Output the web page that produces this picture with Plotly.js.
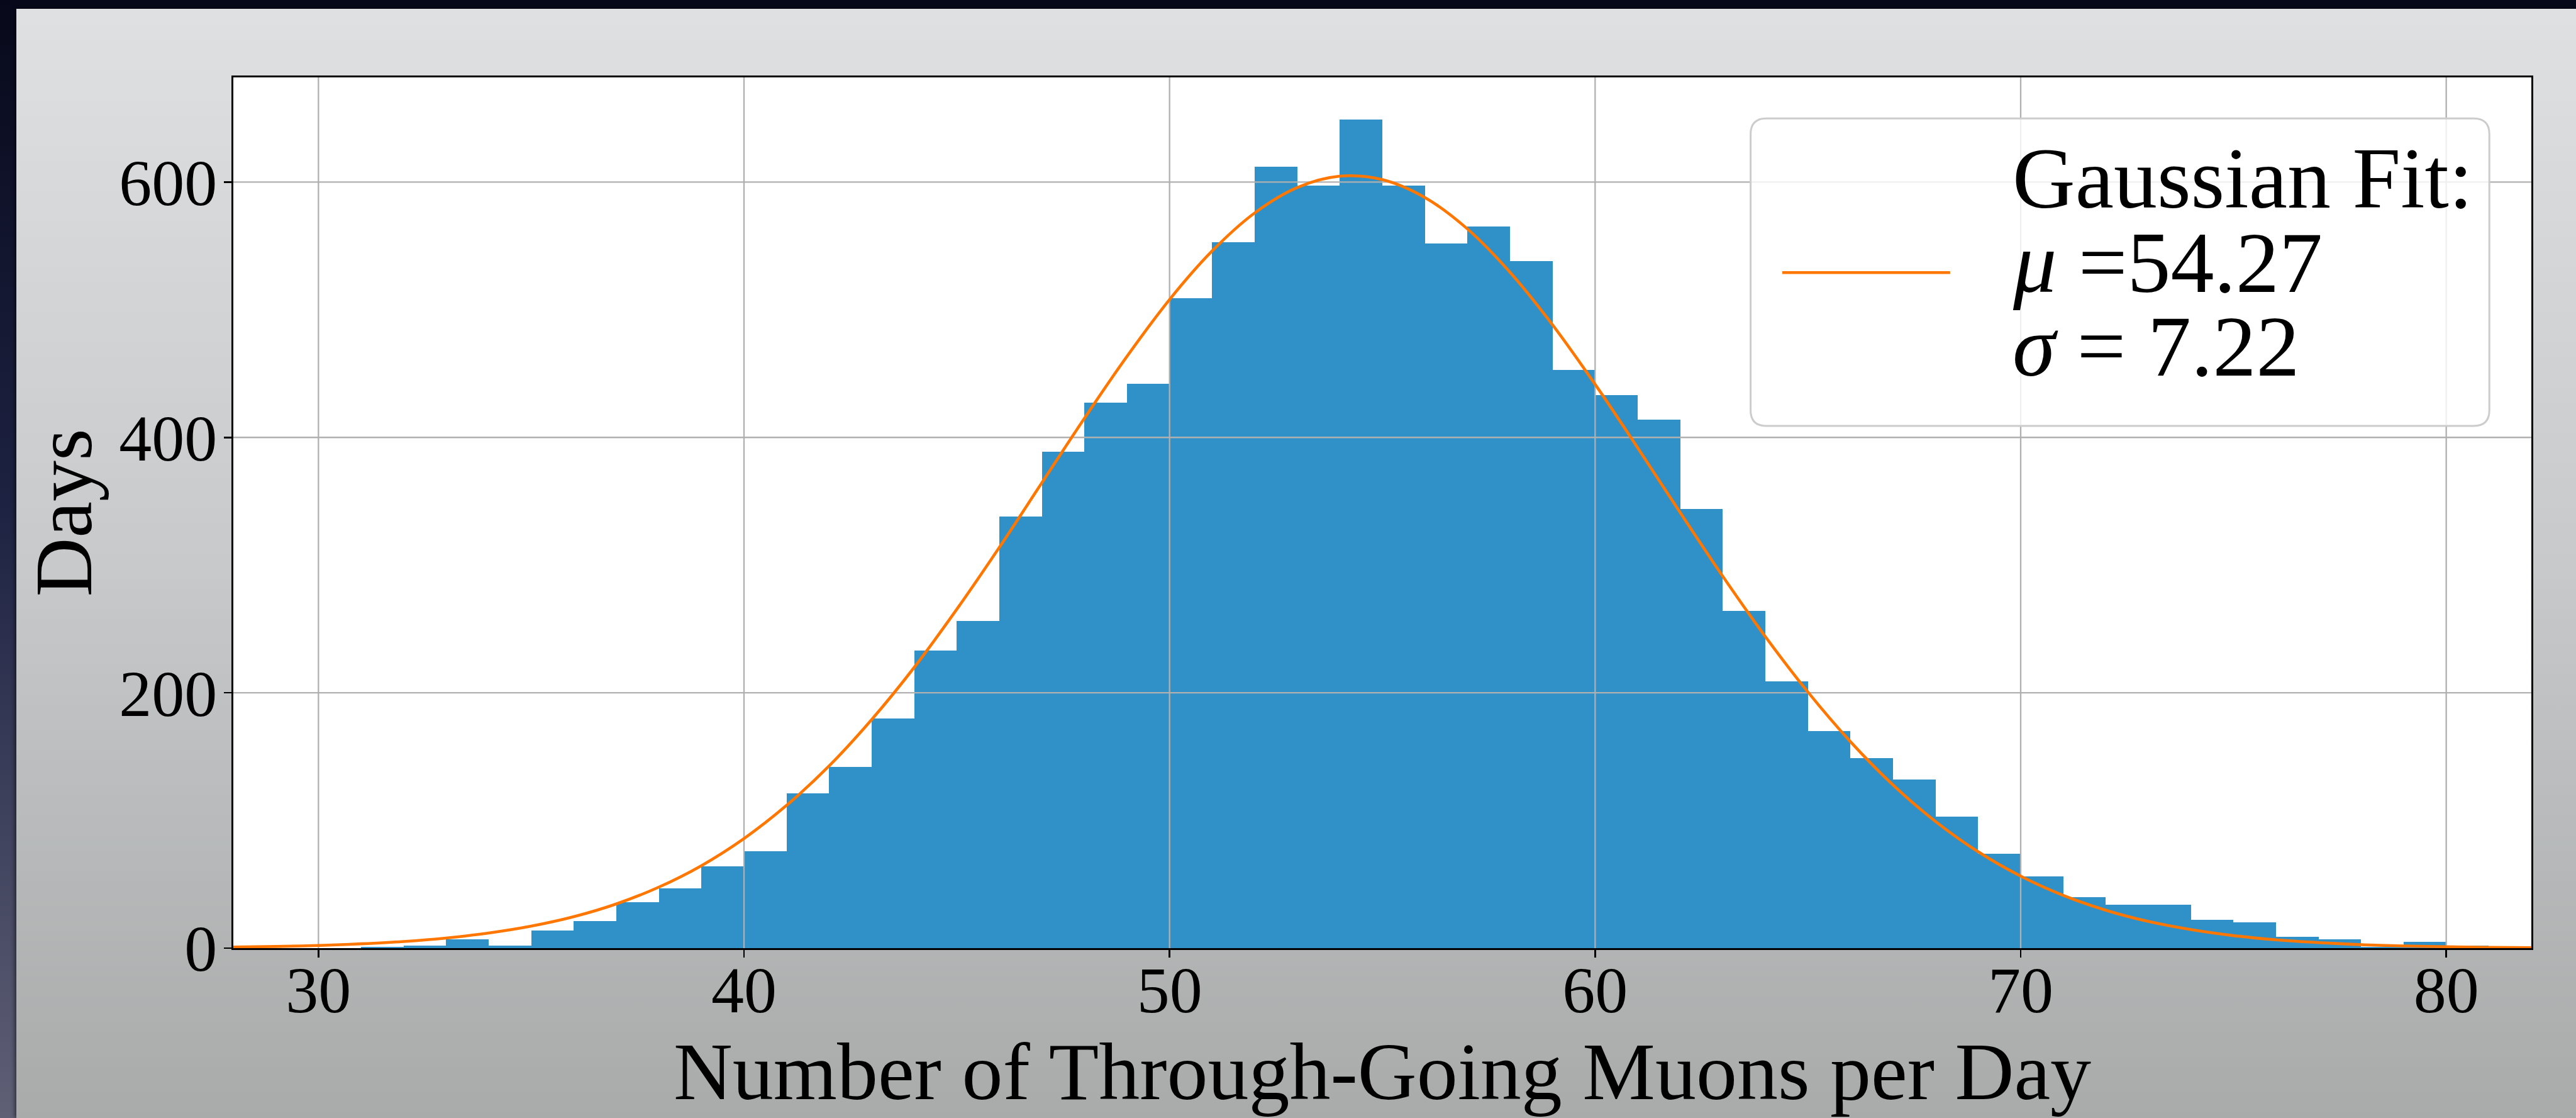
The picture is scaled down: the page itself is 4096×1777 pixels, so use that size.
<!DOCTYPE html>
<html>
<head>
<meta charset="utf-8">
<script src="https://cdn.plot.ly/plotly-3.0.1.min.js"></script>
<style>
html,body{margin:0;padding:0;width:4096px;height:1777px;overflow:hidden;background:#07091a;}
#frame{position:absolute;left:0;top:0;width:4096px;height:1777px;background:linear-gradient(to bottom,#07091a 0%,#1d2242 45%,#5f6076 100%);}
#panel{position:absolute;left:26px;top:14px;right:0;bottom:0;background:linear-gradient(to bottom,#dfe0e2 0%,#c7c9ca 50%,#a8abaa 100%);box-shadow:-3px 0 6px rgba(0,0,0,0.45);}
#chart{position:absolute;left:0;top:0;width:4096px;height:1777px;}
</style>
</head>
<body>
<div id="frame"></div>
<div id="panel"></div>
<div id="chart"></div>
<script>
// ---- data ----
const binStart = [31,32,33,34,35,36,37,38,39,40,41,42,43,44,45,46,47,48,49,50,51,52,53,54,55,56,57,58,59,60,61,62,63,64,65,66,67,68,69,70,71,72,73,74,75,76,77,78,79,80];
const dayCounts = [1,2,7,2,14,21,36,47,64,76,121,142,180,233,256,338,389,427,442,509,553,612,597,649,597,552,565,538,453,433,414,344,264,209,170,149,132,103,74,56,40,34,34,22,20,9,7,1,5,2];
const binWidth = 1;

const fitX = [28,29,30,31,32,33,34,35,36,37,38,39,40,41,42,43,44,45,46,47,48,49,50,51,52,53,54,55,56,57,58,59,60,61,62,63,64,65,66,67,68,69,70,71,72,73,74,75,76,77,78,79,80,81,82];
const fitY = [0.8,1.3,2.1,3.4,5.2,7.9,11.8,17.2,24.6,34.6,47.8,64.6,85.8,111.8,142.7,179.0,219.9,265.4,313.9,364.5,415.0,463.5,508.0,546.0,575.8,595.7,604.6,601.9,587.9,563.3,529.4,488.2,441.6,391.9,341.1,291.2,244.0,200.6,161.7,127.8,99.2,75.5,56.4,41.3,29.7,20.9,14.5,9.8,6.5,4.3,2.7,1.7,1.1,0.6,0.4];

const legendLines = ['Gaussian Fit:', '<i>μ</i> =54.27', '<i>σ</i> = 7.22'];
const xTicks = [30,40,50,60,70,80];
const yTicks = [0,200,400,600];
const xTitle = 'Number of Through-Going Muons per Day';
const yTitle = 'Days';
const xRange = [28,82];
const yRange = [0,682];

// ---- geometry (pixels in the 4096x1777 window) ----
const W = 4096, H = 1777;
const L = 370.5, R = 4025.4, T = 122.6, B = 1507.3;
const px = x => (x - L) / (R - L);
const py = y => (B - y) / (B - T);

const BLUE = '#2f91c7';
const ORANGE = '#ff7700';
const GRID = '#b0b0b0';
const FONT = 'Liberation Serif, Times New Roman, serif';

// grid lines as a trace so they sit above the bars but below the fit line
const gx = [], gy = [];
xTicks.forEach(t => { gx.push(t, t, null); gy.push(yRange[0], yRange[1], null); });
yTicks.filter(t => t > 0).forEach(t => { gx.push(xRange[0], xRange[1], null); gy.push(t, t, null); });

const traces = [
  {type:'bar', x:binStart, y:dayCounts, width:binWidth, offset:0,
   marker:{color:BLUE, line:{width:0}}, showlegend:false, hoverinfo:'x+y'},
  {type:'scatter', mode:'lines', x:gx, y:gy, line:{color:GRID, width:2.3},
   showlegend:false, hoverinfo:'skip', connectgaps:false},
  {type:'scatter', mode:'lines', x:fitX, y:fitY, name:legendLines.join('<br>'),
   line:{color:ORANGE, width:4.6, shape:'spline'}, showlegend:false}
];

// legend box (drawn by hand so its line sample can be as long as the original)
const bx0 = 2783.7, by0 = 188, bx1 = 3958.6, by1 = 676.8, rr = 25;
const P = (x,y) => px(x) + ',' + py(y);
const boxPath = 'M' + P(bx0+rr,by0) + ' L' + P(bx1-rr,by0) + ' Q' + P(bx1,by0) + ' ' + P(bx1,by0+rr) +
  ' L' + P(bx1,by1-rr) + ' Q' + P(bx1,by1) + ' ' + P(bx1-rr,by1) +
  ' L' + P(bx0+rr,by1) + ' Q' + P(bx0,by1) + ' ' + P(bx0,by1-rr) +
  ' L' + P(bx0,by0+rr) + ' Q' + P(bx0,by0) + ' ' + P(bx0+rr,by0) + ' Z';

const shapes = [
  {type:'path', xref:'paper', yref:'paper', path:boxPath, layer:'above',
   fillcolor:'rgba(255,255,255,0.8)', line:{color:'#cccccc', width:3}},
  {type:'line', xref:'paper', yref:'paper', x0:px(2834), x1:px(3101), y0:py(433), y1:py(433),
   layer:'above', line:{color:ORANGE, width:4.4}}
];

const legFont = 138;
const baselines = [330.5, 464.6, 597.7];
const annotations = legendLines.map((t,i) => ({
  xref:'paper', yref:'paper', x:px(3198), y:py(baselines[i] + 0.216*legFont + 1),
  xanchor:'left', yanchor:'bottom', text:t, showarrow:false,
  font:{family:FONT, size:legFont, color:'black'}
}));

const axisCommon = {
  ticks:'outside', ticklen:12, tickwidth:2.5, tickcolor:'black',
  showline:true, linecolor:'black', linewidth:3, mirror:true,
  showgrid:false, zeroline:false, tickfont:{family:FONT, size:104, color:'black'},
  automargin:false
};

const layout = {
  width:W, height:H,
  margin:{l:L, r:W-R, t:T, b:H-B, pad:0},
  paper_bgcolor:'rgba(0,0,0,0)', plot_bgcolor:'white',
  font:{family:FONT, color:'black'},
  showlegend:false, bargap:0,
  xaxis:Object.assign({}, axisCommon, {
    range:xRange, tickmode:'array', tickvals:xTicks, ticktext:xTicks.map(String),
    ticklabelstandoff:-38,
    title:{text:xTitle, font:{family:FONT, size:130, color:'black'}, standoff:22}
  }),
  yaxis:Object.assign({}, axisCommon, {
    range:yRange, tickmode:'array', tickvals:yTicks, ticktext:yTicks.map(String),
    ticklabelstandoff:-10,
    title:{text:yTitle, font:{family:FONT, size:130, color:'black'}, standoff:0}
  }),
  shapes:shapes,
  annotations:annotations
};

Plotly.newPlot('chart', traces, layout, {displayModeBar:false, staticPlot:true});
</script>
</body>
</html>
